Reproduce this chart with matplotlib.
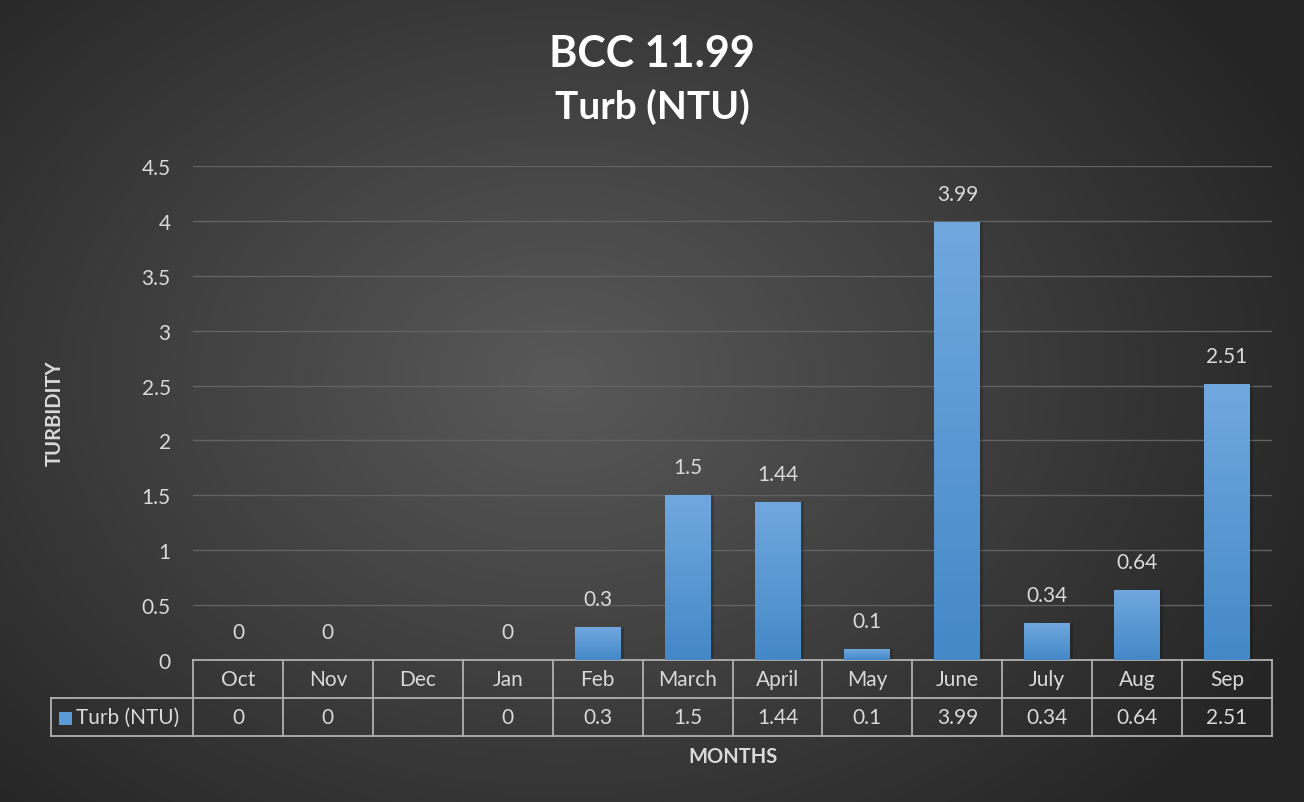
import numpy as np
import matplotlib
matplotlib.use("Agg")
import matplotlib.pyplot as plt
from matplotlib.transforms import blended_transform_factory
from matplotlib.patches import Rectangle

months = ["Oct", "Nov", "Dec", "Jan", "Feb", "March", "April", "May", "June", "July", "Aug", "Sep"]
values = [0, 0, None, 0, 0.3, 1.5, 1.44, 0.1, 3.99, 0.34, 0.64, 2.51]
yticks = [0, 0.5, 1, 1.5, 2, 2.5, 3, 3.5, 4, 4.5]
title1 = "BCC 11.99"
title2 = "Turb (NTU)"
series_name = "Turb (NTU)"

plt.rcParams['font.family'] = ['Lato', 'DejaVu Sans']
W, H = 1304, 803
fig = plt.figure(figsize=(W/100, H/100), dpi=100)

# background radial gradient
bg = fig.add_axes([0, 0, 1, 1], zorder=-10)
yy, xx = np.mgrid[0:H, 0:W]
cx, cy = 560, 380
r = np.sqrt(((xx-cx)/W*1.2)**2 + ((yy-cy)/H*1.0)**2)
r = np.clip(r/0.75, 0, 1)
inner = np.array([0x59, 0x59, 0x59])/255
outer = np.array([0x25, 0x25, 0x25])/255
img = inner[None, None, :]*(1-r[..., None]) + outer[None, None, :]*r[..., None]
bg.imshow(img, extent=[0, W, H, 0], aspect='auto')
bg.set_xlim(0, W); bg.set_ylim(H, 0)
bg.axis('off')

FS = 15
txtc = '#d9d9d9'
L, R, T, B = 193, 1272, 167, 661
ax = fig.add_axes([L/W, 1-B/H, (R-L)/W, (B-T)/H])
ax.set_facecolor('none')
for s in ax.spines.values():
    s.set_visible(False)
ax.set_yticks(yticks)
ax.set_yticklabels([f"{t:g}" for t in yticks])
ax.tick_params(axis='y', length=0, labelsize=FS, colors=txtc, pad=16)
ax.set_xticks([])
ax.yaxis.grid(True, color='#626262', lw=1)
ax.set_axisbelow(True)

x = np.arange(len(months))
bw = 0.51
grad = np.linspace(0, 1, 256)[:, None]
top_c = np.array([0x70, 0xa8, 0xde])/255
bot_c = np.array([0x44, 0x88, 0xc8])/255
gimg = top_c[None, None, :]*(1-grad[..., None]) + bot_c[None, None, :]*grad[..., None]
for xi, v in zip(x, values):
    if v is None:
        continue
    if v > 0:
        sh = Rectangle((xi-bw/2+0.035, 0), bw, v, facecolor='black', alpha=0.18, edgecolor='none', zorder=2)
        ax.add_patch(sh)
        rect = Rectangle((xi-bw/2, 0), bw, v, facecolor='none', edgecolor='none', zorder=3)
        ax.add_patch(rect)
        im = ax.imshow(gimg, extent=[xi-bw/2, xi+bw/2, 0, v], aspect='auto', zorder=3)
        im.set_clip_path(rect)
    ax.annotate(f"{v:g}", (xi, v), xytext=(0, 13), textcoords='offset points',
                ha='center', va='bottom', color=txtc, fontsize=FS)
ax.set_xlim(-0.5, 11.5)
ax.set_ylim(0, 4.5)

# data table
tr = blended_transform_factory(ax.transData, ax.transAxes)
ah = B - T
def yf(py):
    return (B - py)/ah
y0, y1, y2 = yf(661), yf(699), yf(737)
lc = '#b0b0b0'
lw = 1.3
leg_left = -0.5 - (193-51)/((R-L)/12)
ax.plot([-0.5, 11.5], [y0, y0], transform=tr, color=lc, lw=lw, clip_on=False)
ax.plot([leg_left, 11.5], [y1, y1], transform=tr, color=lc, lw=lw, clip_on=False)
ax.plot([leg_left, 11.5], [y2, y2], transform=tr, color=lc, lw=lw, clip_on=False)
for b in np.arange(-0.5, 12.0, 1.0):
    ax.plot([b, b], [y0, y2], transform=tr, color=lc, lw=lw, clip_on=False)
ax.plot([leg_left, leg_left], [y1, y2], transform=tr, color=lc, lw=lw, clip_on=False)
for xi, m, v in zip(x, months, values):
    ax.text(xi, (y0+y1)/2, m, transform=tr, ha='center', va='center', color=txtc, fontsize=FS)
    if v is not None:
        ax.text(xi, (y1+y2)/2, f"{v:g}", transform=tr, ha='center', va='center', color=txtc, fontsize=FS)
# legend key
fig.patches.append(Rectangle((59/W, 1-726/H), 13/W, 13/H, transform=fig.transFigure,
                             facecolor='#5b9bd5', edgecolor='none'))
fig.text(76/W, 1-718/H, series_name, ha='left', va='center', color=txtc, fontsize=FS)

# titles
fig.text(652/W, 1-54/H, title1, ha='center', va='center', color='white', fontsize=31, fontweight='bold')
fig.text(652/W, 1-107/H, title2, ha='center', va='center', color='white', fontsize=28, fontweight='bold')
fig.text(55/W, 1-413/H, "TURBIDITY", ha='center', va='center', rotation=90, color=txtc, fontsize=14.5, fontweight='bold')
fig.text(733/W, 1-757/H, "MONTHS", ha='center', va='center', color=txtc, fontsize=14.5, fontweight='bold')

fig.savefig("out.png", dpi=100)
